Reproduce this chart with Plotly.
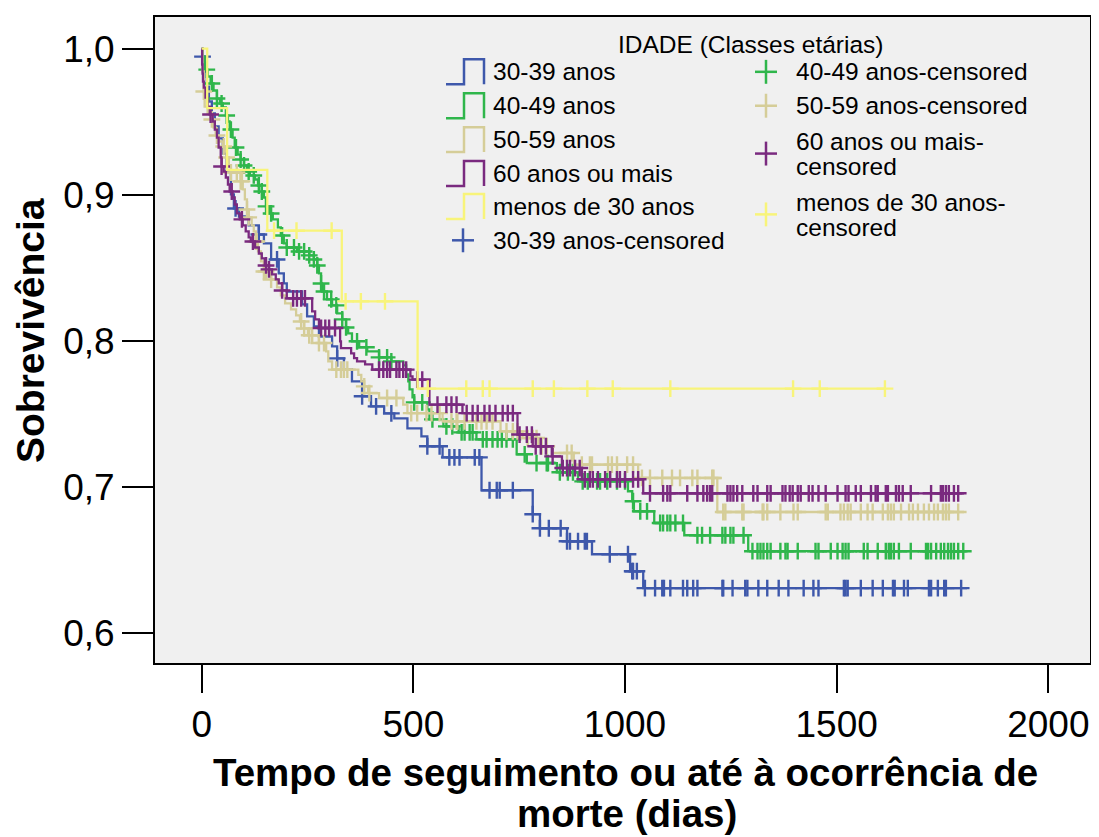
import numpy as np
import plotly.graph_objects as go

# ---------------- data ----------------
GROUP_NAMES = ["30-39 anos", "40-49 anos", "50-59 anos", "60 anos ou mais", "menos de 30 anos"]
CENSOR_NAMES = ["30-39 anos-censored", "40-49 anos-censored", "50-59 anos-censored",
                "60 anos ou mais-censored", "menos de 30 anos-censored"]

# 30-39 anos
BLUE_T = [2, 7, 12, 17, 24, 31, 40, 50, 59, 69, 76, 88, 111, 135, 147, 164, 182, 194, 201, 237,
          249, 265, 277, 308, 320, 336, 355, 379, 400, 431, 455, 486, 519, 533, 569, 661, 782,
          799, 863, 922, 1012, 1043]
BLUE_S = [0.9945, 0.9843, 0.974, 0.9638, 0.9556, 0.9467, 0.9385, 0.9282, 0.9159, 0.9002, 0.8906,
          0.8851, 0.879, 0.8728, 0.8667, 0.8557, 0.8462, 0.8393, 0.8338, 0.825, 0.8167, 0.8099,
          0.803, 0.7962, 0.788, 0.7805, 0.7723, 0.7621, 0.7552, 0.7504, 0.747, 0.7402, 0.7347,
          0.7279, 0.7203, 0.6978, 0.6814, 0.6718, 0.6629, 0.654, 0.6424, 0.6308]
BLUE_CENS = [2, 80, 135, 178, 320, 379, 412, 448, 533, 562, 585, 597, 609, 645, 656, 680, 697, 704,
             735, 782, 799, 820, 848, 863, 870, 889, 905, 910, 964, 1007, 1017, 1019, 1028, 1047,
             1071, 1088, 1092, 1107, 1137, 1147, 1161, 1171, 1230, 1232, 1254, 1284, 1289, 1315,
             1336, 1363, 1386, 1422, 1445, 1457, 1517, 1521, 1526, 1557, 1585, 1609, 1633, 1637,
             1659, 1668, 1718, 1723, 1739, 1754, 1758, 1794]
BLUE_END = 1808

# 40-49 anos
GREEN_T = [2, 7, 14, 21, 28, 36, 43, 50, 57, 62, 66, 73, 78, 85, 92, 100, 107, 114, 126, 133, 142,
           147, 152, 159, 168, 180, 187, 194, 201, 225, 254, 265, 273, 277, 282, 284, 296, 308,
           320, 332, 341, 346, 355, 372, 391, 419, 448, 476, 483, 488, 491, 498, 502, 533, 538,
           571, 607, 649, 744, 768, 839, 889, 1007, 1017, 1021, 1069, 1140, 1291]
GREEN_S = [0.9945, 0.9856, 0.9809, 0.9761, 0.9713, 0.9658, 0.9624, 0.9597, 0.9542, 0.9501, 0.9446,
           0.9391, 0.9323, 0.9275, 0.9241, 0.92, 0.9159, 0.9132, 0.9104, 0.9063, 0.9022, 0.8981,
           0.892, 0.8872, 0.8831, 0.8776, 0.8721, 0.8667, 0.8639, 0.8612, 0.8585, 0.8557, 0.8516,
           0.8462, 0.8393, 0.8338, 0.8284, 0.8243, 0.8188, 0.8147, 0.8092, 0.8051, 0.7997, 0.7956,
           0.7928, 0.7887, 0.786, 0.7832, 0.7771, 0.7723, 0.7668, 0.7614, 0.7579, 0.7532, 0.7463,
           0.7415, 0.7374, 0.7326, 0.7224, 0.7164, 0.7101, 0.7039, 0.6971, 0.6903, 0.6834, 0.6754,
           0.667, 0.6561]
GREEN_CENS = [12, 24, 36, 47, 59, 69, 81, 92, 100, 111, 123, 135, 142, 152, 164, 190, 201, 218,
              230, 242, 254, 265, 273, 282, 289, 306, 318, 332, 341, 367, 389, 419, 438, 448, 502,
              521, 545, 578, 592, 614, 621, 633, 640, 664, 673, 687, 699, 709, 720, 735, 763, 791,
              815, 818, 846, 865, 877, 900, 912, 934, 941, 958, 981, 1000, 1019, 1036, 1052, 1083,
              1090, 1100, 1107, 1119, 1137, 1171, 1182, 1201, 1230, 1237, 1249, 1256, 1280, 1301,
              1313, 1320, 1327, 1336, 1344, 1367, 1379, 1384, 1408, 1450, 1457, 1486, 1502, 1514,
              1521, 1528, 1564, 1573, 1597, 1616, 1623, 1628, 1635, 1647, 1675, 1711, 1716, 1723,
              1735, 1746, 1754, 1763, 1770, 1777, 1787, 1799]
GREEN_END = 1810

# 50-59 anos
BEIGE_T = [2, 5, 7, 14, 21, 28, 33, 40, 50, 55, 59, 64, 69, 92, 97, 102, 107, 111, 118, 123, 128,
           133, 140, 147, 164, 178, 187, 197, 211, 223, 232, 242, 251, 277, 294, 299, 308, 370,
           377, 384, 393, 419, 476, 486, 569, 706, 758, 796, 829, 879, 1031, 1218]
BEIGE_S = [0.9843, 0.9706, 0.9603, 0.9556, 0.9515, 0.946, 0.9405, 0.9364, 0.933, 0.9296, 0.9255,
           0.92, 0.9152, 0.9091, 0.9036, 0.8968, 0.8899, 0.8845, 0.879, 0.8749, 0.868, 0.8612,
           0.8544, 0.8475, 0.842, 0.8366, 0.8311, 0.8256, 0.8215, 0.8174, 0.8133, 0.8085, 0.8038,
           0.7985, 0.7928, 0.786, 0.7803, 0.7768, 0.7723, 0.7689, 0.7643, 0.7609, 0.7564, 0.7506,
           0.745, 0.7381, 0.7335, 0.7279, 0.7233, 0.7153, 0.7062, 0.6829]
BEIGE_CENS = [5, 24, 36, 52, 59, 69, 83, 92, 95, 107, 111, 128, 130, 147, 152, 164, 235, 242, 254,
              261, 277, 289, 318, 329, 336, 344, 384, 396, 438, 460, 495, 509, 531, 543, 562, 590,
              602, 604, 621, 649, 661, 673, 687, 720, 735, 746, 770, 782, 791, 803, 815, 863, 874,
              898, 917, 922, 960, 969, 981, 1005, 1019, 1040, 1059, 1088, 1111, 1130, 1159, 1171,
              1206, 1209, 1232, 1237, 1277, 1280, 1325, 1327, 1336, 1367, 1398, 1408, 1474, 1479,
              1509, 1517, 1526, 1533, 1557, 1573, 1585, 1609, 1621, 1628, 1635, 1652, 1671, 1680,
              1692, 1706, 1718, 1730, 1739, 1751, 1758, 1765, 1787]
BEIGE_END = 1801

# 60 anos ou mais
PURPLE_T = [1, 2, 3, 5, 9, 14, 19, 26, 31, 36, 40, 45, 47, 52, 57, 62, 66, 73, 78, 83, 90, 97,
            104, 111, 116, 126, 135, 142, 149, 159, 166, 175, 182, 190, 201, 261, 268, 277, 327,
            329, 353, 360, 367, 386, 403, 493, 498, 538, 616, 746, 782, 827, 851, 898, 1043]
PURPLE_S = [0.9891, 0.9829, 0.9774, 0.9733, 0.9665, 0.9603, 0.9549, 0.9501, 0.9446, 0.9391,
            0.9323, 0.9255, 0.9193, 0.9159, 0.9118, 0.907, 0.9022, 0.8981, 0.8933, 0.8872, 0.8831,
            0.879, 0.8749, 0.8708, 0.868, 0.8639, 0.8598, 0.8564, 0.8516, 0.8489, 0.8455, 0.8421,
            0.8393, 0.8345, 0.8291, 0.8202, 0.8147, 0.8088, 0.7997, 0.7951, 0.7915, 0.7882, 0.786,
            0.7839, 0.7803, 0.7757, 0.7735, 0.7564, 0.7506, 0.7359, 0.7279, 0.721, 0.713, 0.7053,
            0.6957]
PURPLE_CENS = [21, 47, 71, 95, 121, 152, 159, 190, 216, 225, 235, 244, 282, 292, 301, 315, 419, 429,
               438, 445, 460, 467, 476, 483, 509, 521, 557, 578, 590, 602, 626, 640, 652, 668, 680,
               694, 711, 723, 735, 751, 768, 780, 789, 801, 813, 829, 853, 863, 870, 882, 893, 905,
               917, 924, 936, 953, 965, 981, 988, 1000, 1019, 1031, 1059, 1090, 1100, 1107, 1147,
               1171, 1185, 1194, 1201, 1206, 1242, 1249, 1256, 1265, 1277, 1303, 1313, 1336, 1344,
               1372, 1379, 1389, 1396, 1408, 1415, 1434, 1443, 1457, 1474, 1502, 1521, 1528, 1545,
               1557, 1581, 1592, 1597, 1616, 1621, 1640, 1647, 1656, 1675, 1723, 1746, 1751, 1758,
               1765, 1777, 1787]
PURPLE_END = 1801

# menos de 30 anos
YELLOW_T = [13, 60, 155, 331, 510]
YELLOW_S = [0.9592, 0.917, 0.8754, 0.827, 0.7673]
YELLOW_CENS = [171, 224, 307, 340, 376, 433, 534, 625, 664, 680, 782, 832, 911, 971, 1107, 1397,
               1460, 1614]
YELLOW_END = 1614

X_TICKS = [0, 500, 1000, 1500, 2000]
Y_TICKS = [0.6, 0.7, 0.8, 0.9, 1.0]
Y_TICK_LABELS = ["0,6", "0,7", "0,8", "0,9", "1,0"]

COLORS = ["#3E58AB", "#2FB64B", "#D5CD98", "#7A2A7F", "#F8F47A"]

SERIES = [
    (BLUE_T, BLUE_S, BLUE_CENS, BLUE_END),
    (GREEN_T, GREEN_S, GREEN_CENS, GREEN_END),
    (BEIGE_T, BEIGE_S, BEIGE_CENS, BEIGE_END),
    (PURPLE_T, PURPLE_S, PURPLE_CENS, PURPLE_END),
    (YELLOW_T, YELLOW_S, YELLOW_CENS, YELLOW_END),
]

# ---------------- figure ----------------
# the page body has an 8px margin, so the figure is drawn 8px smaller and positions
# below are given in page pixels and shifted by that offset
OFF = 8
W, H = 1099 - OFF, 837 - OFF
ML, MT = 155 - OFF, 15 - OFF
PW, PH = 935, 648
MR = W - ML - PW
MB = H - MT - PH


def pxx(x):
    return (x - OFF - ML) / PW


def pxy(y):
    return (MT + PH - (y - OFF)) / PH


FONT = "Liberation Sans, Arial, Helvetica, sans-serif"

fig = go.Figure()


def level_at(ts, ss, t):
    i = int(np.searchsorted(np.asarray(ts), t, side="right"))
    return 1.0 if i == 0 else ss[i - 1]


for (ts, ss, cens, t_end), name, cname, col in zip(SERIES, GROUP_NAMES, CENSOR_NAMES, COLORS):
    fig.add_trace(go.Scatter(
        x=[0] + list(ts) + [t_end], y=[1.0] + list(ss) + [ss[-1]],
        mode="lines", line=dict(shape="hv", color=col, width=2.3),
        name=name, hoverinfo="skip"))
    fig.add_trace(go.Scatter(
        x=cens, y=[level_at(ts, ss, c) for c in cens],
        mode="markers", name=cname,
        marker=dict(symbol="cross-thin", size=12, color=col,
                    line=dict(color=col, width=2.4)),
        hoverinfo="skip"))

fig.update_layout(
    width=W, height=H,
    margin=dict(l=ML, r=MR, t=MT, b=MB),
    paper_bgcolor="white", plot_bgcolor="#F0F0F0",
    showlegend=False,
    font=dict(family=FONT, color="black"),
)
fig.update_xaxes(
    range=[-110.3, 2098.4], tickvals=X_TICKS, ticks="outside", ticklen=28, tickwidth=2,
    tickcolor="black", showline=True, linecolor="black", linewidth=2, mirror=True,
    showgrid=False, zeroline=False, tickfont=dict(size=37, family=FONT),
)
fig.update_yaxes(
    range=[0.5796, 1.0216], tickvals=Y_TICKS, ticktext=Y_TICK_LABELS, ticks="outside",
    ticklen=31, tickwidth=2, tickcolor="black", showline=True, linecolor="black",
    linewidth=2, mirror=True, showgrid=False, zeroline=False,
    tickfont=dict(size=37, family=FONT),
)

annotations = []
shapes = []

# axis titles
annotations.append(dict(text="<b>Tempo de seguimento ou até à ocorrência de</b>", x=pxx(625),
                        y=pxy(773), xref="paper", yref="paper", showarrow=False,
                        xanchor="center", yanchor="middle", font=dict(size=38.5, family=FONT)))
annotations.append(dict(text="<b>morte (dias)</b>", x=pxx(627), y=pxy(814), xref="paper",
                        yref="paper", showarrow=False, xanchor="center", yanchor="middle",
                        font=dict(size=38.5, family=FONT)))
annotations.append(dict(text="<b>Sobrevivência</b>", x=pxx(30), y=pxy(330), xref="paper",
                        yref="paper", showarrow=False, textangle=-90, xanchor="center",
                        yanchor="middle", font=dict(size=39, family=FONT)))

# legend
LFS = 24.5
annotations.append(dict(text="IDADE (Classes etárias)", x=pxx(750), y=pxy(43), xref="paper",
                        yref="paper", showarrow=False, xanchor="center", yanchor="middle",
                        font=dict(size=LFS, family=FONT)))

left_rows = [70, 104, 138, 172, 205]
for cy, name, col in zip(left_rows, GROUP_NAMES, COLORS):
    yb, yt = cy + 12.5, cy - 12.5
    path = (f"M {pxx(446)},{pxy(yb)} L {pxx(464)},{pxy(yb)} L {pxx(464)},{pxy(yt)} "
            f"L {pxx(484)},{pxy(yt)} L {pxx(484)},{pxy(yb)}")
    shapes.append(dict(type="path", path=path, xref="paper", yref="paper",
                       line=dict(color=col, width=2.5)))
    annotations.append(dict(text=name, x=pxx(491), y=pxy(cy), xref="paper", yref="paper",
                            showarrow=False, xanchor="left", yanchor="middle",
                            font=dict(size=LFS, family=FONT)))


def plus(cx, cy, col):
    shapes.append(dict(type="line", xref="paper", yref="paper", x0=pxx(cx - 11), x1=pxx(cx + 11),
                       y0=pxy(cy), y1=pxy(cy), line=dict(color=col, width=2.5)))
    shapes.append(dict(type="line", xref="paper", yref="paper", x0=pxx(cx), x1=pxx(cx),
                       y0=pxy(cy - 12), y1=pxy(cy + 12), line=dict(color=col, width=2.5)))


plus(463, 239, COLORS[0])
annotations.append(dict(text=CENSOR_NAMES[0], x=pxx(491), y=pxy(239), xref="paper", yref="paper",
                        showarrow=False, xanchor="left", yanchor="middle",
                        font=dict(size=LFS, family=FONT)))

right_entries = [
    (70, [(CENSOR_NAMES[1], 70)], COLORS[1]),
    (104, [(CENSOR_NAMES[2], 104)], COLORS[2]),
    (152, [("60 anos ou mais-", 140), ("censored", 165)], COLORS[3]),
    (213, [("menos de 30 anos-", 201), ("censored", 226)], COLORS[4]),
]
for py, lines, col in right_entries:
    plus(766, py, col)
    for txt, ty in lines:
        annotations.append(dict(text=txt, x=pxx(794), y=pxy(ty), xref="paper", yref="paper",
                                showarrow=False, xanchor="left", yanchor="middle",
                                font=dict(size=LFS, family=FONT)))

fig.update_layout(annotations=annotations, shapes=shapes)

fig.write_html("out.html")
